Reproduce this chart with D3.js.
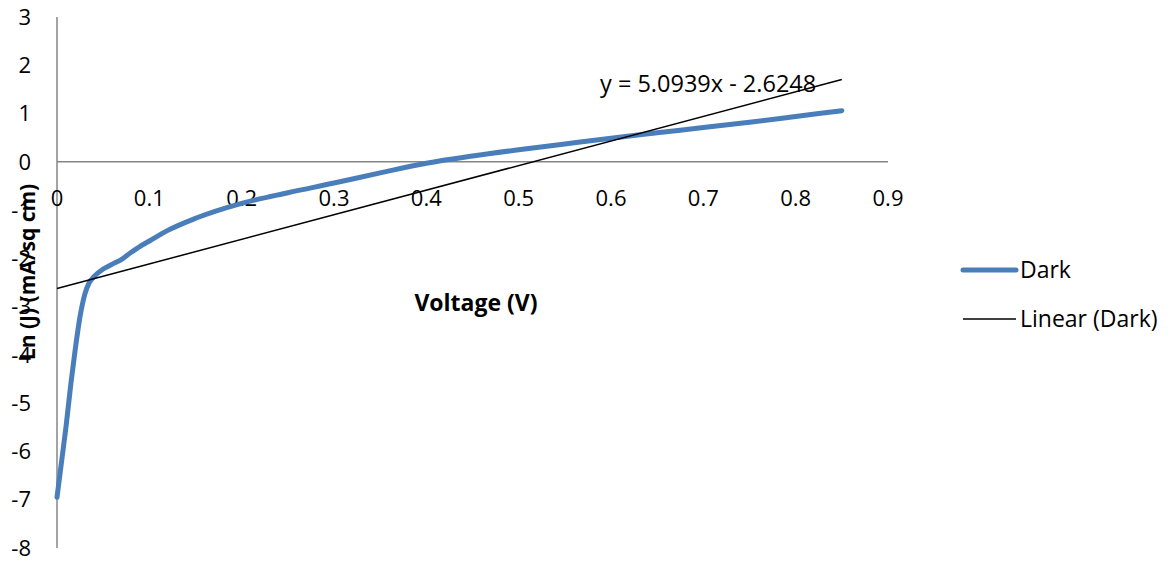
<!DOCTYPE html>
<html>
<head>
<meta charset="utf-8">
<script src="https://cdn.jsdelivr.net/npm/d3@7"></script>
<style>
  body { margin: 0; background: #fff; }
  text { font-family: "Open Sans", Lato, sans-serif; fill: #000; }
</style>
</head>
<body>
<svg id="chart" width="1171" height="563"></svg>
<script>
// measured curve (Ln J vs V)
var voltage = [0, 0.005, 0.01, 0.015, 0.02, 0.025, 0.03, 0.035, 0.04, 0.05, 0.06, 0.07, 0.08, 0.09, 0.1,
               0.12, 0.15, 0.2, 0.25, 0.3, 0.35, 0.4, 0.45, 0.5, 0.55, 0.6, 0.65, 0.7, 0.75, 0.8, 0.85];
var lnJ = [-6.95, -6.2, -5.45, -4.6, -3.85, -3.2, -2.75, -2.5, -2.38, -2.22, -2.12, -2.02, -1.88, -1.75, -1.64,
           -1.42, -1.17, -0.86, -0.64, -0.44, -0.23, -0.03, 0.12, 0.25, 0.37, 0.49, 0.6, 0.71, 0.82, 0.94, 1.06];
var trendCoef = [5.0939, -2.6248]; // slope, intercept
var xTicks = [0, 0.1, 0.2, 0.3, 0.4, 0.5, 0.6, 0.7, 0.8, 0.9];
var yTicks = [3, 2, 1, 0, -1, -2, -3, -4, -5, -6, -7, -8];
var legendLabels = ["Dark", "Linear (Dark)"];

var svg = d3.select("#chart");
var blue = "#4a7ebb", axisGray = "#868686";

var x = d3.scaleLinear().domain([0, 0.9]).range([57, 888]);
var y = d3.scaleLinear().domain([-8, 3]).range([548, 17]);

// axes: y-axis line at x=0, x-axis line at y=0
svg.append("line").attr("x1", x(0)).attr("x2", x(0)).attr("y1", y(3)).attr("y2", y(-8))
    .attr("stroke", axisGray).attr("stroke-width", 1.5);
svg.append("line").attr("x1", x(0)).attr("x2", x(0.9)).attr("y1", y(0)).attr("y2", y(0))
    .attr("stroke", axisGray).attr("stroke-width", 1.5);

// y tick labels
svg.selectAll(".ylab").data(yTicks).enter().append("text")
    .attr("class", "ylab")
    .attr("x", 31).attr("y", function(d) { return y(d); })
    .attr("dy", "0.35em").attr("text-anchor", "end")
    .style("font-size", "22px")
    .text(function(d) { return d; });

// x tick labels
svg.selectAll(".xlab").data(xTicks).enter().append("text")
    .attr("class", "xlab")
    .attr("x", function(d) { return x(d); }).attr("y", 206)
    .attr("text-anchor", "middle")
    .style("font-size", "22px")
    .text(function(d) { return d; });

// axis titles
svg.append("text").attr("x", 476).attr("y", 311).attr("text-anchor", "middle")
    .style("font-size", "23px").style("font-weight", "bold").text("Voltage (V)");
svg.append("text").attr("transform", "translate(35,272) rotate(-90)").attr("text-anchor", "middle")
    .style("font-size", "21px").style("font-weight", "bold").text("Ln (J) (mA/sq cm)");

// data curve
var pts = voltage.map(function(v, i) { return [v, lnJ[i]]; });
var line = d3.line().x(function(d) { return x(d[0]); }).y(function(d) { return y(d[1]); })
    .curve(d3.curveMonotoneX);
svg.append("path").datum(pts).attr("d", line)
    .attr("fill", "none").attr("stroke", blue).attr("stroke-width", 5).attr("stroke-linecap", "round");

// trendline
var tx = d3.extent(voltage);
var trend = tx.map(function(v) { return [v, trendCoef[0] * v + trendCoef[1]]; });
svg.append("path").datum(trend).attr("d", d3.line().x(function(d) { return x(d[0]); }).y(function(d) { return y(d[1]); }))
    .attr("fill", "none").attr("stroke", "#000").attr("stroke-width", 1.5);

svg.append("text").attr("x", 600).attr("y", 92)
    .style("font-size", "23.5px")
    .text("y = " + trendCoef[0] + "x - " + Math.abs(trendCoef[1]));

// legend
var legend = svg.append("g");
legend.append("line").attr("x1", 963).attr("x2", 1016).attr("y1", 270).attr("y2", 270)
    .attr("stroke", blue).attr("stroke-width", 5).attr("stroke-linecap", "round");
legend.append("text").attr("x", 1020).attr("y", 270).attr("dy", "0.35em")
    .style("font-size", "23px").text(legendLabels[0]);
legend.append("line").attr("x1", 963).attr("x2", 1016).attr("y1", 319).attr("y2", 319)
    .attr("stroke", "#000").attr("stroke-width", 1.5);
legend.append("text").attr("x", 1020).attr("y", 319).attr("dy", "0.35em")
    .style("font-size", "23px").text(legendLabels[1]);
</script>
</body>
</html>
